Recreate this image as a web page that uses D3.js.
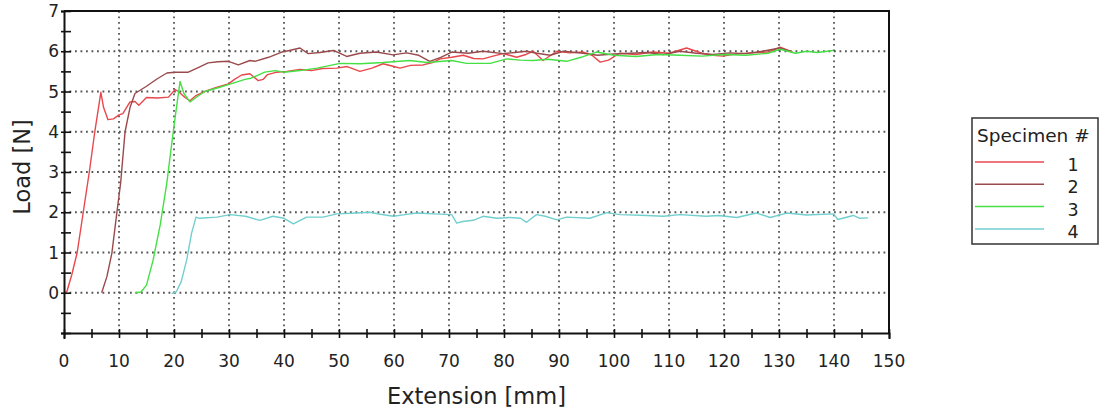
<!DOCTYPE html>
<html>
<head>
<meta charset="utf-8">
<script src="https://cdn.jsdelivr.net/npm/d3@7"></script>
<style>
  body { margin: 0; background: #fff; }
  svg { display: block; }
  text { font-family: "DejaVu Sans", Verdana, sans-serif; fill: #222; }
</style>
</head>
<body>
<div id="chart"></div>
<script>
// specimen curves, [extension mm, load N]
let spec1 = [[0,0],[0.5,0.02],[1.4,0.44],[2.4,1],[3.5,2],[4.6,3],[5.6,4],[6.7,4.98],[7.2,4.6],[8,4.3],[9,4.32],[10,4.42],[10.7,4.45],[12,4.74],[12.9,4.75],[13.6,4.66],[15,4.85],[17,4.84],[19,4.86],[20.2,5.05],[20.8,5.0],[22,4.85],[22.9,4.77],[24,4.9],[25.6,5.0],[27.7,5.1],[29.9,5.19],[31,5.3],[32.3,5.41],[33.8,5.44],[35.3,5.27],[36.2,5.3],[37,5.42],[38.7,5.48],[40.5,5.5],[42.9,5.55],[45,5.52],[47,5.57],[49.6,5.58],[51.5,5.62],[53.8,5.5],[56,5.58],[58,5.69],[60,5.62],[61.1,5.58],[63,5.65],[65.3,5.66],[67,5.72],[68.4,5.81],[70.5,5.85],[72.6,5.9],[74.5,5.82],[76.2,5.81],[78,5.88],[79.8,5.94],[81,5.9],[82.3,5.85],[84,5.92],[85.3,6.0],[87.1,5.77],[89.6,6.0],[92,5.96],[94.4,5.98],[96,5.9],[97.5,5.73],[99,5.78],[101,5.95],[104,5.92],[107,5.98],[110,5.95],[113.2,6.08],[116,5.95],[118,5.9],[119.8,5.88],[122,5.93],[125,5.96],[128,5.98],[130.2,6.1],[132.5,5.98]];
let spec2 = [[6.85,0],[7.8,0.4],[8.7,0.98],[9.6,1.98],[10.3,2.73],[11.1,4.0],[12,4.6],[12.9,4.95],[15,5.13],[16.9,5.31],[18.7,5.46],[20.2,5.48],[22.6,5.48],[24.5,5.6],[26.2,5.71],[28,5.74],[29.9,5.75],[31.7,5.66],[33.8,5.77],[34.7,5.75],[37.2,5.85],[39.6,5.98],[41,6.02],[42.9,6.08],[44.4,5.94],[46.5,5.97],[49,6.02],[51.4,5.87],[53.8,5.95],[56.8,5.98],[59.8,5.91],[62.3,5.96],[64.5,5.9],[66.5,5.75],[68.5,5.85],[70.5,5.98],[73.5,5.95],[76.2,6.0],[79.8,5.94],[82,5.97],[84.1,6.0],[86,5.95],[88.4,5.9],[90.8,6.0],[94.4,5.95],[97,5.9],[100,5.93],[103,5.95],[106,5.97],[109,5.92],[112,6.0],[115,5.95],[118,5.92],[121,5.96],[124,5.94],[127,6.0],[130.2,6.08],[132,6.0]];
let spec3 = [[12.9,0],[14,0.02],[15,0.19],[16.2,0.81],[17.5,1.69],[18.7,2.73],[19.4,3.5],[20.2,4.35],[21.1,5.25],[21.8,4.95],[22.9,4.74],[24,4.85],[25.6,5.0],[27.7,5.08],[29.9,5.17],[32.9,5.3],[34,5.33],[36.5,5.48],[38.4,5.52],[40,5.48],[42.9,5.52],[46,5.58],[50.2,5.7],[53.8,5.69],[58,5.72],[62.9,5.77],[66,5.72],[70.5,5.77],[73.2,5.7],[77.5,5.7],[80.5,5.81],[83,5.78],[85.3,5.77],[88,5.8],[91.4,5.75],[94,5.85],[96.8,5.98],[100,5.9],[104,5.87],[108,5.92],[112,5.9],[116,5.88],[120,5.92],[124,5.9],[128,5.95],[130.2,6.05],[133,5.95],[135,6.0],[137,5.97],[139.8,6.02]];
let spec4 = [[19.6,-0.02],[20.4,0.02],[21.3,0.27],[22.3,0.81],[23.2,1.48],[24,1.88],[24.6,1.85],[27.8,1.88],[30.2,1.94],[33,1.9],[35.6,1.8],[38,1.9],[40,1.85],[41.7,1.71],[44.1,1.88],[47.1,1.88],[49.6,1.96],[53.2,1.98],[55.6,2.0],[57.5,1.95],[59.9,1.9],[62,1.94],[64.1,1.98],[67.2,1.96],[70.5,1.94],[71.4,1.73],[72.5,1.77],[74.4,1.8],[76.2,1.9],[78.7,1.85],[81.1,1.87],[83,1.85],[84.1,1.75],[85.9,1.94],[87.5,1.9],[89.6,1.81],[91.4,1.88],[95.6,1.85],[98.7,1.99],[101.1,1.94],[105.9,1.92],[109,1.9],[112,1.94],[116.8,1.9],[119,1.92],[122.3,1.87],[125.9,1.98],[128.4,1.87],[131.4,1.98],[135,1.93],[139.9,1.96],[140.7,1.82],[143.5,1.92],[144.7,1.85],[146.2,1.86]];

let specimens = [spec1, spec2, spec3, spec4];
let specNames = ["1", "2", "3", "4"];
let specColors = ["#e8474c", "#9a4a4c", "#44e044", "#72cfcf"];
let xTicks = d3.range(0, 151, 10);
let yTicks = d3.range(0, 8, 1);

let width = 1099, height = 410;
let mLeft = 64, mRight = 889, mTop = 11, mBottom = 333;

let svg = d3.select("#chart").append("svg")
    .attr("width", width)
    .attr("height", height);

let x = d3.scaleLinear().domain([0, 150]).range([mLeft, mRight]);
let y = d3.scaleLinear().domain([-1, 7]).range([mBottom, mTop]);

// dotted grid
let grid = svg.append("g").attr("stroke", "#555").attr("stroke-width", 1.8)
    .attr("stroke-dasharray", "1.8,3.7").attr("fill", "none");
grid.selectAll(".vg").data(xTicks.filter(d => d > 0 && d < 150)).enter().append("line")
    .attr("x1", d => x(d)).attr("x2", d => x(d))
    .attr("y1", mTop).attr("y2", mBottom);
grid.selectAll(".hg").data(d3.range(0, 7)).enter().append("line")
    .attr("y1", d => y(d)).attr("y2", d => y(d))
    .attr("x1", mLeft).attr("x2", mRight);

// curves
let line = d3.line().x(d => x(d[0])).y(d => y(d[1]));
svg.append("g").selectAll("path").data(specimens).enter().append("path")
    .attr("d", line)
    .attr("fill", "none")
    .attr("stroke", (d, i) => specColors[i])
    .attr("stroke-width", 1.4)
    .attr("stroke-linejoin", "round");

// frame: top and right
svg.append("path")
    .attr("d", "M" + mLeft + "," + mTop + "H" + mRight + "V" + mBottom)
    .attr("fill", "none").attr("stroke", "#111").attr("stroke-width", 2);

// x axis
let xAxis = svg.append("g").attr("transform", "translate(0," + mBottom + ")")
    .call(d3.axisBottom(x).tickValues(d3.range(0, 151, 5)).tickSize(6).tickFormat(""));
xAxis.select(".domain").attr("stroke", "#111").attr("stroke-width", 2);
xAxis.selectAll(".tick line").attr("y1", -4).attr("y2", 5).attr("stroke", "#111").attr("stroke-width", 1.6);
svg.append("g").selectAll("text").data(xTicks).enter().append("text")
    .attr("x", d => x(d)).attr("y", 367)
    .attr("text-anchor", "middle")
    .style("font-size", "17px")
    .text(d => d);

// y axis
let yAxis = svg.append("g").attr("transform", "translate(" + mLeft + ",0)")
    .call(d3.axisLeft(y).tickValues(d3.range(-1, 7.01, 0.5)).tickSize(3).tickFormat(""));
yAxis.select(".domain").attr("stroke", "#111").attr("stroke-width", 2);
yAxis.selectAll(".tick line").attr("x1", -3).attr("x2", 7).attr("stroke", "#111").attr("stroke-width", 1.6);
svg.append("g").selectAll("text").data(yTicks).enter().append("text")
    .attr("x", 59).attr("y", d => y(d) + 6)
    .attr("text-anchor", "end")
    .style("font-size", "17px")
    .text(d => d);

// axis titles
svg.append("text")
    .attr("x", (mLeft + mRight) / 2).attr("y", 404)
    .attr("text-anchor", "middle")
    .style("font-size", "22.5px")
    .text("Extension [mm]");
svg.append("text")
    .attr("transform", "translate(30," + 167 + ") rotate(-90)")
    .attr("text-anchor", "middle")
    .style("font-size", "22.5px")
    .text("Load [N]");

// legend
let legend = svg.append("g");
legend.append("rect")
    .attr("x", 972).attr("y", 118).attr("width", 126).attr("height", 126)
    .attr("fill", "#fff").attr("stroke", "#333").attr("stroke-width", 1.5);
legend.append("text")
    .attr("x", 977).attr("y", 142)
    .style("font-size", "18.5px")
    .text("Specimen #");
let items = legend.selectAll(".item").data(specNames).enter().append("g")
    .attr("transform", (d, i) => "translate(0," + (162 + i * 22.3) + ")");
items.append("line")
    .attr("x1", 975).attr("x2", 1044)
    .attr("stroke", (d, i) => specColors[i]).attr("stroke-width", 1.5);
items.append("text")
    .attr("x", 1073).attr("y", 9)
    .attr("text-anchor", "middle")
    .style("font-size", "17.5px")
    .text(d => d);
</script>
</body>
</html>
